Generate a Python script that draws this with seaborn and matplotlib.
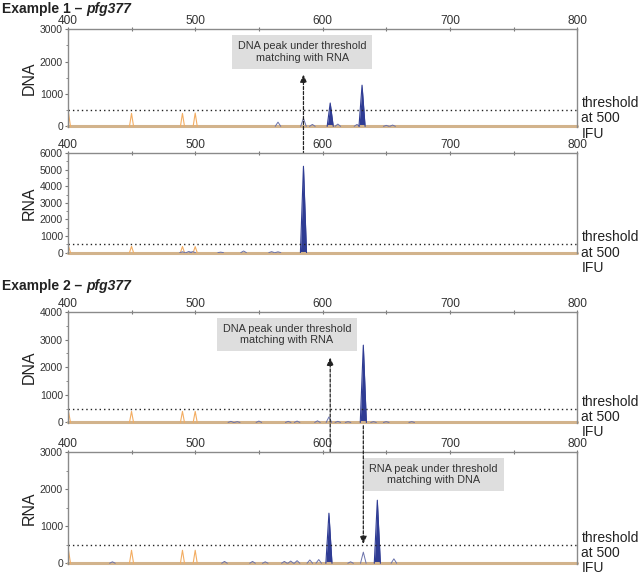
import numpy as np
import pandas as pd
import seaborn as sns
import matplotlib.pyplot as plt
from matplotlib.ticker import MultipleLocator

# data: peak positions (bp) and heights (IFU)
THRESHOLD = 500
X_RANGE = (400, 800)

# Example 1 - pfg377
ex1_dna_big = [(606, 720), (631, 1270)]
ex1_dna_small = [(565, 130), (585, 250), (592, 60), (612, 70), (627, 60), (650, 30), (655, 40)]
ex1_dna_std = [(400.5, 420), (450, 400), (490, 400), (500, 410)]

ex1_rna_big = [(585, 5200)]
ex1_rna_small = [(490, 50), (495, 70), (498, 60), (520, 30), (538, 100), (560, 60), (565, 50)]
ex1_rna_std = [(400.5, 400), (450, 380), (490, 370), (500, 360)]

# Example 2 - pfg377
ex2_dna_big = [(632, 2800)]
ex2_dna_small = [(528, 40), (533, 30), (550, 50), (573, 40), (580, 50), (596, 60), (605, 200),
                 (612, 40), (620, 30), (640, 30), (650, 30), (670, 30)]
ex2_dna_std = [(400.5, 400), (450, 400), (490, 400), (500, 400)]

ex2_rna_big = [(605, 1350), (643, 1700)]
ex2_rna_small = [(435, 40), (523, 50), (545, 50), (555, 40), (570, 50), (575, 60), (580, 70),
                 (590, 90), (597, 100), (622, 40), (632, 300), (656, 120)]
ex2_rna_std = [(400.5, 350), (450, 350), (490, 350), (500, 350)]

panels = [
    dict(label='DNA', big=ex1_dna_big, small=ex1_dna_small, std=ex1_dna_std, ymax=3000, major=1000),
    dict(label='RNA', big=ex1_rna_big, small=ex1_rna_small, std=ex1_rna_std, ymax=6000, major=1000),
    dict(label='DNA', big=ex2_dna_big, small=ex2_dna_small, std=ex2_dna_std, ymax=4000, major=1000),
    dict(label='RNA', big=ex2_rna_big, small=ex2_rna_small, std=ex2_rna_std, ymax=3000, major=1000),
]

BLUE = '#2f3c94'
BLUE_LINE = '#6a72ab'
ORANGE = '#f3ad62'
BASE = '#d2b38c'


def peaks_df(peaks, half_width):
    # one triangular trace segment per peak, sitting on the zero baseline
    rows = []
    for i, (pos, h) in enumerate(peaks):
        rows += [(i, pos - half_width, 0), (i, pos, h), (i, pos + half_width, 0)]
    return pd.DataFrame(rows, columns=['peak', 'bp', 'IFU'])


sns.set_style('white')
plt.rcParams['font.family'] = ['Liberation Sans', 'DejaVu Sans']

fig = plt.figure(figsize=(6.4, 5.76), dpi=100)
# [left, bottom, width, height] in figure fraction
rects = [
    [0.106, 0.7795, 0.796, 0.170],
    [0.106, 0.5608, 0.796, 0.1736],
    [0.106, 0.2656, 0.796, 0.1927],
    [0.106, 0.0208, 0.796, 0.1945],
]
axes = []
for rect, p in zip(rects, panels):
    ax = fig.add_axes(rect)
    axes.append(ax)
    base = pd.DataFrame({'bp': list(X_RANGE), 'IFU': [0, 0]})
    sns.lineplot(data=base, x='bp', y='IFU', ax=ax, color=BASE, lw=2.2, clip_on=False)
    sns.lineplot(data=peaks_df(p['std'], 1.6), x='bp', y='IFU', units='peak', ax=ax,
                 sort=False, estimator=None, color=ORANGE, lw=0.8)
    sns.lineplot(data=peaks_df(p['small'], 2.2), x='bp', y='IFU', units='peak', ax=ax,
                 sort=False, estimator=None, color=BLUE_LINE, lw=0.7)
    big = peaks_df(p['big'], 2.4)
    sns.lineplot(data=big, x='bp', y='IFU', units='peak', ax=ax, sort=False,
                 estimator=None, color=BLUE, lw=0.8)
    for _, seg in big.groupby('peak'):
        ax.fill_between(seg['bp'], 0, seg['IFU'], color=BLUE, lw=0)

    ax.axhline(THRESHOLD, ls=(0, (1, 2.2)), color='#222222', lw=1.0)
    ax.set_xlim(*X_RANGE)
    ax.set_ylim(-20, p['ymax'])
    ax.set_yticks(np.arange(0, p['ymax'] + 1, p['major']))
    ax.yaxis.set_minor_locator(MultipleLocator(p['major'] / 2))
    ax.set_xticks(np.arange(400, 801, 100))
    ax.xaxis.set_minor_locator(MultipleLocator(50))
    ax.xaxis.tick_top()
    ax.tick_params(axis='x', which='both', direction='inout', length=3, width=0.8,
                   color='#777777', labelsize=8.6, pad=0, labelcolor='#333333')
    ax.tick_params(axis='y', which='major', direction='out', length=2.5, width=0.8,
                   color='#777777', labelsize=7.5, pad=1, labelcolor='#333333', left=True)
    ax.tick_params(axis='y', which='minor', direction='out', length=1.5, width=0.6,
                   color='#777777', left=True)
    ax.set_xlabel('')
    ax.set_ylabel(p['label'], fontsize=11.5, color='#222222')
    ax.yaxis.set_label_coords(-0.062, 0.5)
    for side in ['top', 'left', 'right']:
        ax.spines[side].set_color('#8a8a8a')
        ax.spines[side].set_linewidth(1.0)
    ax.spines['bottom'].set_visible(False)
    ax.annotate('threshold\nat 500\nIFU', xy=(1, THRESHOLD),
                xycoords=('axes fraction', 'data'), xytext=(3, -6),
                textcoords='offset points', ha='left', va='center',
                fontsize=10, linespacing=1.12, color='#222222', annotation_clip=False)

# panel titles
for y, num in [(0.984, '1'), (0.503, '2')]:
    t1 = fig.text(0.003, y, f'Example {num} – ', fontsize=10, fontweight='bold',
                  ha='left', va='center', color='#222222')
    axes[0].annotate('pfg377', xy=(1, 0), xycoords=t1, ha='left', va='bottom',
                     fontsize=10, fontweight='bold', fontstyle='italic', color='#222222',
                     annotation_clip=False)

# grey note boxes
box = dict(boxstyle='square,pad=0.55', fc='#dedede', ec='none')
axes[0].text(584, 2290, 'DNA peak under threshold\nmatching with RNA', ha='center',
             va='center', fontsize=7.8, color='#333333', bbox=box, linespacing=1.2)
axes[2].text(572, 3190, 'DNA peak under threshold\nmatching with RNA', ha='center',
             va='center', fontsize=7.8, color='#333333', bbox=box, linespacing=1.2)
axes[3].text(687, 2390, 'RNA peak under threshold\nmatching with DNA', ha='center',
             va='center', fontsize=7.8, color='#333333', bbox=box, linespacing=1.2)

# dashed arrows linking peaks between the DNA and RNA traces
arrow = dict(arrowstyle='-|>,head_length=0.45,head_width=0.2', color='#222222',
             lw=0.9, ls=(0, (2.5, 1.5)), shrinkA=0, shrinkB=0)
axes[0].annotate('', xy=(585, 1600), xycoords=axes[0].transData,
                 xytext=(585, 5300), textcoords=axes[1].transData, arrowprops=arrow)
axes[2].annotate('', xy=(606, 2350), xycoords=axes[2].transData,
                 xytext=(606, 1380), textcoords=axes[3].transData, arrowprops=arrow)
axes[3].annotate('', xy=(632, 520), xycoords=axes[3].transData,
                 xytext=(632, -120), textcoords=axes[2].transData, arrowprops=arrow)

fig.savefig('out.png', dpi=100)
